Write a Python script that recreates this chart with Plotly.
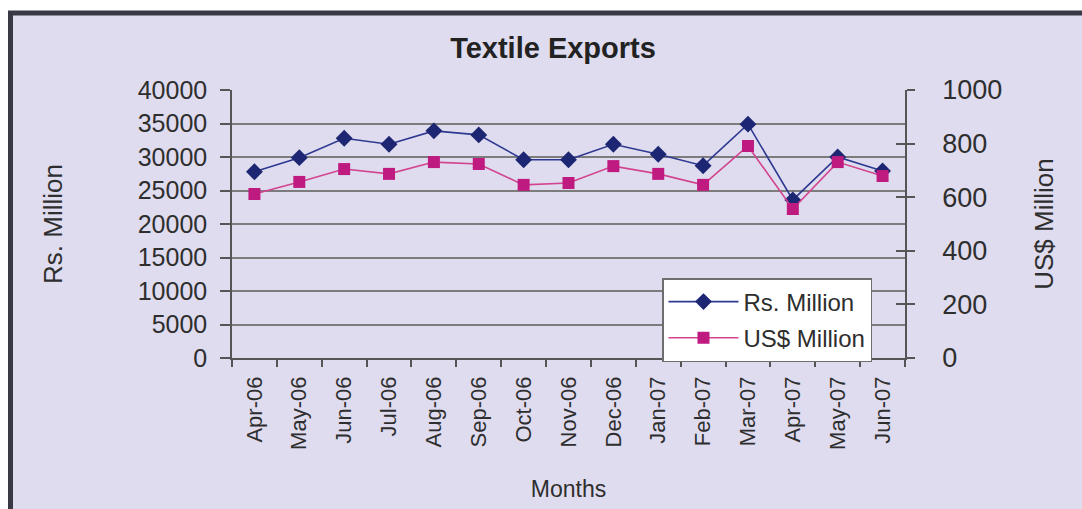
import plotly.graph_objects as go

# Monthly textile exports, April 2006 - June 2007
months = ["Apr-06", "May-06", "Jun-06", "Jul-06", "Aug-06", "Sep-06", "Oct-06",
          "Nov-06", "Dec-06", "Jan-07", "Feb-07", "Mar-07", "Apr-07", "May-07", "Jun-07"]
rs_million = [27800, 29900, 32800, 31900, 33900, 33300, 29600,
              29600, 31900, 30400, 28700, 34900, 23600, 30000, 27900]
usd_million = [612, 657, 705, 687, 731, 724, 646,
               653, 716, 687, 646, 791, 556, 731, 679]

rs_ticks = [0, 5000, 10000, 15000, 20000, 25000, 30000, 35000, 40000]
rs_tick_text = ["0", "5000", "10000", "15000", "20000", "25000", "30000", "35000", "40000"]
usd_ticks = [0, 200, 400, 600, 800, 1000]
usd_tick_text = ["0", "200", "400", "600", "800", "1000"]

W, H = 1082, 509
L, R, T, B = 232, 905, 90, 358          # plot area edges in pixels
FONT = "Liberation Sans, Arial, sans-serif"
TXT = "#2e2e2e"
LAVENDER = "#dfdcef"


def px_x(p):
    return (p - L) / (R - L)


def px_y(p):
    return (B - p) / (B - T)


fig = go.Figure()

fig.add_trace(go.Scatter(
    x=months, y=rs_million, name="Rs. Million", mode="lines+markers",
    line=dict(color="#2d3991", width=1.6),
    marker=dict(symbol="diamond", size=13, color="#1d2672"),
    legendgroup="rs", yaxis="y",
))
fig.add_trace(go.Scatter(
    x=months, y=usd_million, name="US$ Million", mode="lines+markers",
    line=dict(color="#d2448f", width=1.6),
    marker=dict(symbol="square", size=12, color="#be1a80"),
    legendgroup="usd", yaxis="y2",
))

axis_line = dict(showline=True, linecolor="#555555", linewidth=1.5,
                 tickcolor="#555555", tickwidth=1.5)

fig.update_layout(
    width=W, height=H,
    margin=dict(l=L, r=W - R, t=T, b=H - B, autoexpand=False),
    paper_bgcolor="white",
    plot_bgcolor="white",
    font=dict(family=FONT, color=TXT),
    title=dict(text="<b>Textile Exports</b>", x=px_x(553), xref="paper",
               xanchor="center", y=1 - 48 / H, yanchor="middle",
               font=dict(size=29, color="#222222")),
    xaxis=dict(
        type="category", categoryorder="array", categoryarray=months,
        range=[-0.5, len(months) - 0.5],
        tickson="boundaries", ticks="outside", ticklen=7,
        tickangle=-90, tickfont=dict(size=22, color=TXT),
        ticklabelstandoff=8,
        showgrid=False, zeroline=False,
        title=dict(text="Months", font=dict(size=23, color=TXT), standoff=32),
        **axis_line,
    ),
    yaxis=dict(
        range=[0, 40000], tickvals=rs_ticks, ticktext=rs_tick_text,
        ticks="outside", ticklen=10,
        tickfont=dict(size=25, color=TXT), ticklabelstandoff=8,
        showgrid=True, gridcolor="#7c7c7c", gridwidth=1.6, zeroline=False,
        title=dict(text="Rs. Million", font=dict(size=26, color=TXT), standoff=68),
        **axis_line,
    ),
    yaxis2=dict(
        range=[0, 1000], tickvals=usd_ticks, ticktext=usd_tick_text,
        overlaying="y", side="right", anchor="x", ticks="outside", ticklen=8,
        tickfont=dict(size=27, color=TXT), ticklabelstandoff=22,
        showgrid=False, zeroline=False,
        title=dict(text="US$ Million", font=dict(size=26, color=TXT), standoff=34),
        **axis_line,
    ),
    # inner half of the crossing tick marks on the right axis
    yaxis3=dict(
        range=[0, 1000], tickvals=usd_ticks, overlaying="y", side="right",
        anchor="x", ticks="inside", ticklen=9, showticklabels=False,
        showgrid=False, zeroline=False, showline=False,
        tickcolor="#555555", tickwidth=1.5,
    ),
    legend=dict(
        x=px_x(662), y=px_y(278), xanchor="left", yanchor="top",
        bgcolor="white", bordercolor="#6e6e6e", borderwidth=1.5,
        font=dict(size=24, color=TXT), traceorder="grouped",
        tracegroupgap=2, itemwidth=70,
    ),
    showlegend=True,
    shapes=[dict(
        type="rect", xref="paper", yref="paper", layer="below",
        x0=px_x(10.5), x1=px_x(W + 20), y0=px_y(H + 20), y1=px_y(13),
        fillcolor=LAVENDER, line=dict(color="#393946", width=5),
    )],
)

# empty trace tied to yaxis3 so its ticks are drawn
fig.add_trace(go.Scatter(x=[months[0]], y=[None], yaxis="y3", showlegend=False,
                         hoverinfo="skip", mode="lines"))

fig.write_html("out.html")
